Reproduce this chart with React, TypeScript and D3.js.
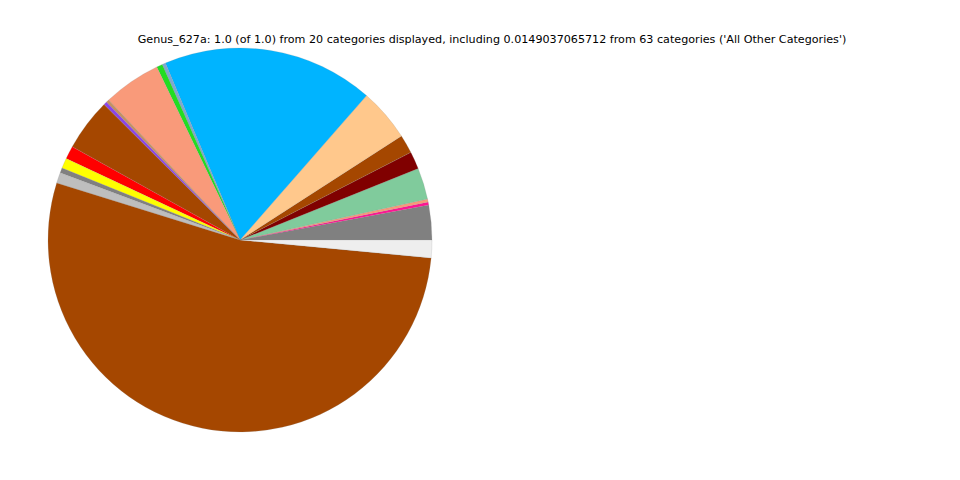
import React from "react";
import * as d3 from "d3";

const title =
  "Genus_627a: 1.0 (of 1.0) from 20 categories displayed, including 0.0149037065712 from 63 categories ('All Other Categories')";

const categories = [
  "c1", "c2", "c3", "c4", "c5", "c6", "c7", "c8", "c9", "c10",
  "c11", "c12", "c13", "c14", "c15", "c16", "c17", "c18", "c19", "All Other Categories",
];

const values = [
  0.0292, 0.0025, 0.0025, 0.0265, 0.0147, 0.0156, 0.0444, 0.1780, 0.0028, 0.0050,
  0.0486, 0.0025, 0.0028, 0.0439, 0.0111, 0.0086, 0.0042, 0.0089, 0.5328, 0.0149,
];

const colors = [
  "#808080", "#FF1493", "#F99A7A", "#80CB9C", "#800000", "#A54700", "#FFC88C", "#00B4FF", "#7FA8D0", "#22DD22",
  "#F99A7A", "#C69060", "#8B44E8", "#A54700", "#FF0000", "#FFFF00", "#808080", "#BEBEBE", "#A54700", "#EEEEEE",
];

export default function App() {
  const width = 960;
  const height = 480;
  const cx = 240;
  const cy = 240;
  const r = 192;

  const data = categories.map((c, i) => ({ c, v: values[i], color: colors[i] }));
  const pie = d3
    .pie<{ c: string; v: number; color: string }>()
    .value((d) => d.v)
    .sort(null)
    .startAngle(Math.PI / 2)
    .endAngle(Math.PI / 2 - 2 * Math.PI);
  const arcs = pie(data);
  const arc = d3.arc<d3.PieArcDatum<{ c: string; v: number; color: string }>>().innerRadius(0).outerRadius(r);

  return (
    <svg
      width={width}
      height={height}
      style={{ position: "absolute", left: 0, top: 0, background: "#fff" }}
    >
      <rect width={width} height={height} fill="#fff" />
      <g transform={`translate(${cx},${cy})`}>
        {arcs.map((a, i) => (
          <path key={i} d={arc(a) || ""} fill={a.data.color} stroke="#888" strokeWidth={0.3} strokeOpacity={0.6} />
        ))}
      </g>
      <text
        x={492}
        y={43}
        textAnchor="middle"
        fontFamily="DejaVu Sans"
        fontSize={11.15}
        fill="#000"
      >
        {title}
      </text>
    </svg>
  );
}
